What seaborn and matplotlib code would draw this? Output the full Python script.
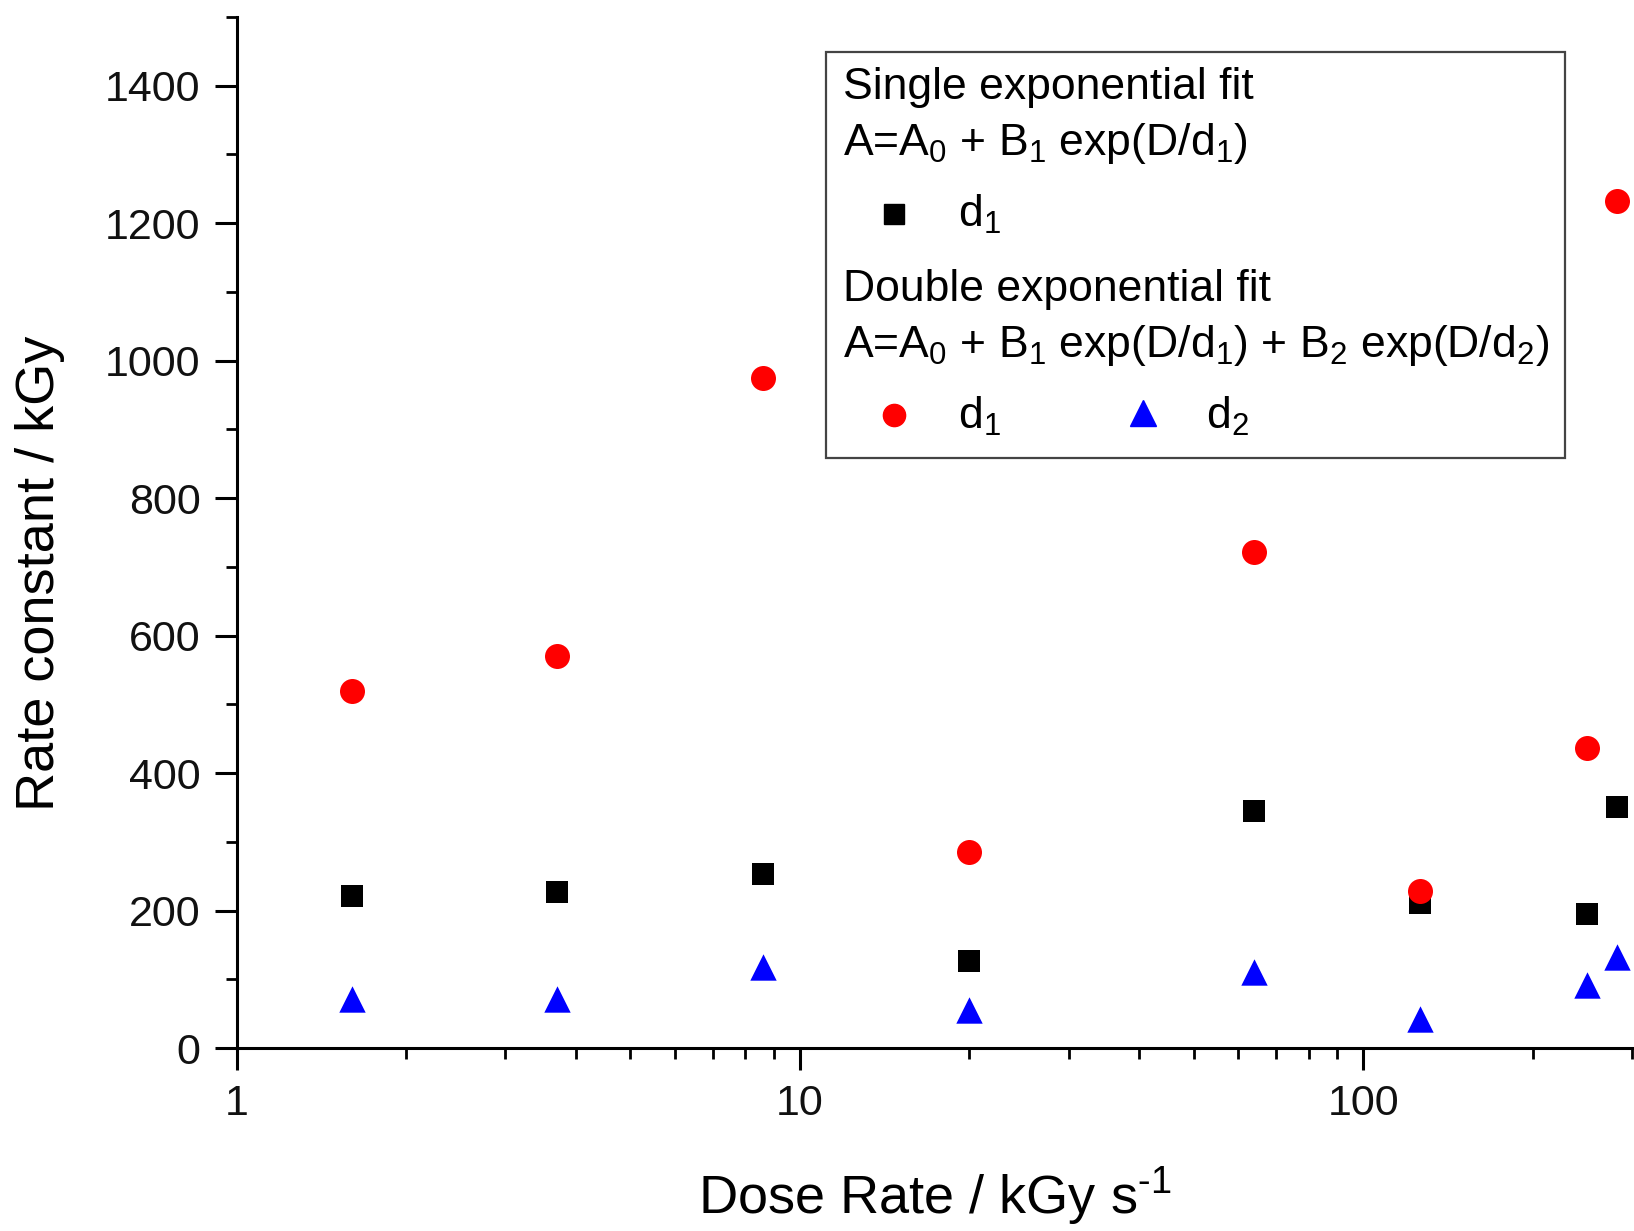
import numpy as np
import pandas as pd
import matplotlib.pyplot as plt
import seaborn as sns
from matplotlib.lines import Line2D
from matplotlib.patches import Rectangle
from matplotlib.ticker import LogLocator, MultipleLocator, FixedFormatter, FixedLocator

# dose rate in kGy/s
dose_rate = [1.6, 3.7, 8.6, 20, 64, 126, 250, 282]
# single exponential fit, d1
single_d1 = [221, 227, 253, 127, 345, 211, 195, 351]
# double exponential fit, d1 and d2
double_d1 = [520, 570, 975, 285, 722, 229, 437, 1233]
double_d2 = [72, 72, 118, 55, 111, 42, 92, 132]

sns.set_style('ticks')
plt.rcParams['font.family'] = ['Liberation Sans', 'DejaVu Sans']
plt.rcParams['mathtext.fontset'] = 'custom'
plt.rcParams['mathtext.rm'] = 'Liberation Sans'
plt.rcParams['mathtext.it'] = 'Liberation Sans'
plt.rcParams['text.color'] = 'black'
plt.rcParams['axes.labelcolor'] = 'black'

W, H = 1634, 1231
fig = plt.figure(figsize=(W / 100, H / 100), dpi=100)
ax = fig.add_axes([236.6 / W, 1 - 1048 / H, (1632 - 236.6) / W, (1048 - 17) / H])

df = pd.DataFrame({'x': dose_rate, 's1': single_d1, 'd1': double_d1, 'd2': double_d2})
sns.scatterplot(data=df, x='x', y='s1', marker='s', color='black', s=16.5 ** 2,
                linewidth=0, ax=ax, clip_on=False, zorder=3)
sns.scatterplot(data=df, x='x', y='d1', marker='o', color='#ff0000', s=18 ** 2,
                linewidth=0, ax=ax, clip_on=False, zorder=4)
sns.scatterplot(data=df, x='x', y='d2', marker='^', color='#0000ff', s=19 ** 2,
                linewidth=0, ax=ax, clip_on=False, zorder=3)

ax.set_xscale('log')
ax.set_xlim(1, 300)
ax.set_ylim(0, 1500)
ax.xaxis.set_major_locator(FixedLocator([1, 10, 100]))
ax.xaxis.set_major_formatter(FixedFormatter(['1', '10', '100']))
ax.xaxis.set_minor_locator(LogLocator(base=10, subs=np.arange(2, 10)))
ax.xaxis.set_minor_formatter(plt.NullFormatter())
ax.yaxis.set_major_locator(MultipleLocator(200))
ax.yaxis.set_minor_locator(MultipleLocator(100))

for side in ['top', 'right']:
    ax.spines[side].set_visible(False)
for side in ['left', 'bottom']:
    ax.spines[side].set_linewidth(2.2)
    ax.spines[side].set_color('black')

ax.tick_params(which='major', direction='out', length=16, width=2.2, color='black',
               labelsize=31, pad=10, labelcolor='#111111')
ax.tick_params(which='minor', direction='out', length=8, width=2.0, color='black')

ax.set_xlabel(r'Dose Rate / kGy s$^{\text{-1}}$', fontsize=39, labelpad=30)
ax.set_ylabel('Rate constant / kGy', fontsize=39)
ax.yaxis.set_label_coords(-0.1233, 0.4607)

# legend box drawn by hand (Origin style)
fig.add_artist(Rectangle((826 / W, 1 - 458 / H), (1565 - 826) / W, (458 - 52) / H,
                         transform=fig.transFigure, fill=False, edgecolor='#444444',
                         linewidth=1.6))
fs = 32
tx = 843 / W
fig.text(tx, 1 - 88 / H, 'Single exponential fit', fontsize=fs, va='center')
fig.text(tx, 1 - 144 / H, 'A=A$_0$ + B$_1$ exp(D/d$_1$)', fontsize=fs, va='center')
fig.text(958 / W, 1 - 214 / H, 'd$_1$', fontsize=fs, va='center')
fig.text(tx, 1 - 289 / H, 'Double exponential fit', fontsize=fs, va='center')
fig.text(tx, 1 - 346 / H, 'A=A$_0$ + B$_1$ exp(D/d$_1$) + B$_2$ exp(D/d$_2$)',
         fontsize=fs, va='center')
fig.text(958 / W, 1 - 416 / H, 'd$_1$', fontsize=fs, va='center')
fig.text(1206 / W, 1 - 416 / H, 'd$_2$', fontsize=fs, va='center')

fig.add_artist(Line2D([894 / W], [1 - 214 / H], marker='s', color='black',
                      markersize=14, linestyle='none', transform=fig.transFigure))
fig.add_artist(Line2D([894 / W], [1 - 415 / H], marker='o', color='#ff0000',
                      markersize=16, linestyle='none', transform=fig.transFigure))
fig.add_artist(Line2D([1143 / W], [1 - 413 / H], marker='^', color='#0000ff',
                      markersize=19, linestyle='none', transform=fig.transFigure))

fig.savefig('out.png', dpi=100)
